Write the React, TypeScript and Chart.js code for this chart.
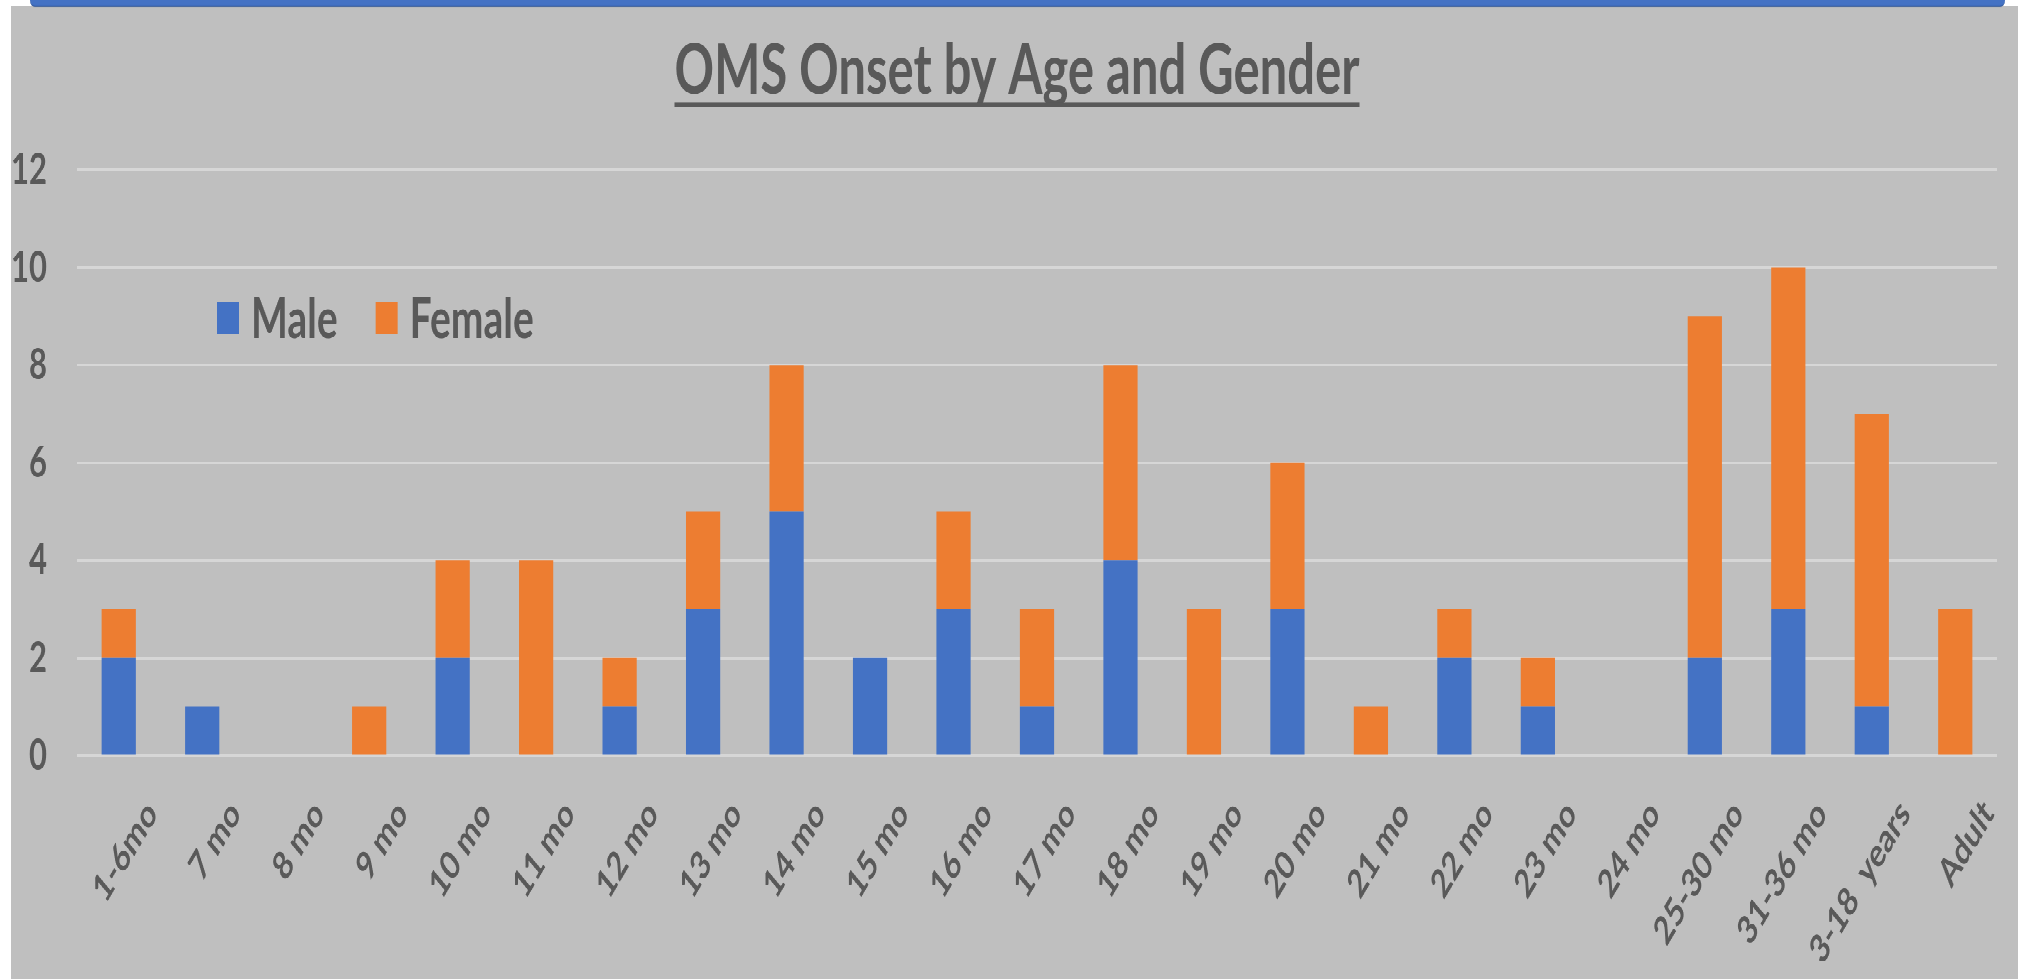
import React, { useEffect, useRef } from "react";
import { Chart, registerables } from "chart.js";

Chart.register(...registerables);

const categories = [
  "1-6mo", "7 mo", "8 mo", "9 mo", "10 mo", "11 mo", "12 mo", "13 mo", "14 mo",
  "15 mo", "16 mo", "17 mo", "18 mo", "19 mo", "20 mo", "21 mo", "22 mo", "23 mo",
  "24 mo", "25-30 mo", "31-36 mo", "3-18  years", "Adult",
];
const maleValues = [2, 1, 0, 0, 2, 0, 1, 3, 5, 2, 3, 1, 4, 0, 3, 0, 2, 1, 0, 2, 3, 1, 0];
const femaleValues = [1, 0, 0, 1, 2, 4, 1, 2, 3, 0, 2, 2, 4, 3, 3, 1, 1, 1, 0, 7, 7, 6, 3];
const seriesNames = ["Male", "Female"];
const seriesColors = ["#4472C4", "#ED7D31"];
const yTicks = [0, 2, 4, 6, 8, 10, 12];
const titleText = "OMS Onset by Age and Gender";

const S = 1.42; // vertical stretch of the reference picture
const W = 2018;
const H = 979;
const FONT = 'Lato, "Open Sans", sans-serif';
const TEXT = "#595959";

const overlayPlugin = {
  id: "overlay",
  afterDraw(chart: any) {
    const ctx = chart.ctx as CanvasRenderingContext2D;
    ctx.save();
    ctx.fillStyle = TEXT;
    ctx.textBaseline = "alphabetic";
    // title
    ctx.font = `bold 49px ${FONT}`;
    ctx.textAlign = "center";
    const tx = 1006;
    ctx.fillText(titleText, tx, 62);
    const tw = ctx.measureText(titleText).width;
    ctx.fillRect(tx - tw / 2, 68.2, tw, 3);
    // legend
    ctx.textAlign = "left";
    ctx.font = `bold 39px ${FONT}`;
    let x = 206;
    chart.data.datasets.forEach((ds: any) => {
      ctx.fillStyle = ds.backgroundColor;
      ctx.fillRect(x, 209, 22, 22);
      ctx.fillStyle = TEXT;
      ctx.fillText(ds.label, x + 34, 234);
      x = x + 34 + ctx.measureText(ds.label).width + 38;
    });
    ctx.restore();
  },
};

export default function App() {
  const ref = useRef<HTMLCanvasElement | null>(null);

  useEffect(() => {
    let chart: Chart | null = null;
    let cancelled = false;
    const make = () => {
      if (cancelled || !ref.current) return;
      chart = new Chart(ref.current, {
        type: "bar",
        data: {
          labels: categories,
          datasets: [
            { label: seriesNames[0], data: maleValues, backgroundColor: seriesColors[0] },
            { label: seriesNames[1], data: femaleValues, backgroundColor: seriesColors[1] },
          ],
        },
        options: {
          animation: false,
          responsive: false,
          devicePixelRatio: 2,
          layout: { padding: { left: 0, right: 21, top: 115.5, bottom: 0 } },
          datasets: { bar: { barPercentage: 0.41, categoryPercentage: 1 } },
          plugins: { legend: { display: false }, title: { display: false }, tooltip: { enabled: false } },
          scales: {
            x: {
              stacked: true,
              grid: { display: false, drawTicks: false },
              border: { display: false },
              ticks: {
                autoSkip: false,
                minRotation: 50,
                maxRotation: 50,
                padding: 25,
                labelOffset: 33,
                color: TEXT,
                font: { family: FONT, size: 28, weight: "bold" },
              },
              afterFit: (s: any) => { s.height = 157.8; },
            },
            y: {
              stacked: true,
              min: 0,
              max: 12,
              afterBuildTicks: (s: any) => { s.ticks = yTicks.map((v) => ({ value: v })); },
              grid: { color: "#D6D6D6", lineWidth: 2, drawTicks: false },
              border: { display: false },
              ticks: {
                padding: 30,
                color: TEXT,
                font: { family: FONT, size: 31, weight: "bold" },
              },
              afterFit: (s: any) => { s.width = 66; },
            },
          },
        },
        plugins: [overlayPlugin],
      });
    };
    const fonts = (document as any).fonts;
    if (fonts && fonts.load) {
      Promise.all([fonts.load(`bold 30px Lato`), fonts.load(`30px Lato`)]).then(make, make);
    } else make();
    return () => {
      cancelled = true;
      if (chart) chart.destroy();
    };
  }, []);

  return (
    <div style={{ position: "absolute", left: 0, top: 0, width: W, height: H, background: "#ffffff", overflow: "hidden" }}>
      <div
        style={{
          position: "absolute",
          left: 0,
          top: 0,
          width: W,
          height: H / S,
          transform: `scaleY(${S})`,
          transformOrigin: "0 0",
        }}
      >
        <canvas
          ref={ref}
          width={2007}
          height={686}
          style={{ position: "absolute", left: 11, top: 3.5, width: 2007, height: 686, background: "#BFBFBF" }}
        />
        <div
          style={{
            position: "absolute",
            left: 30,
            top: 0,
            width: 1975,
            height: 3.5,
            background: "#4472C4",
            borderBottom: "0.7px solid #2F5597",
            borderBottomLeftRadius: 20,
            borderBottomRightRadius: 20,
          }}
        />
      </div>
    </div>
  );
}
